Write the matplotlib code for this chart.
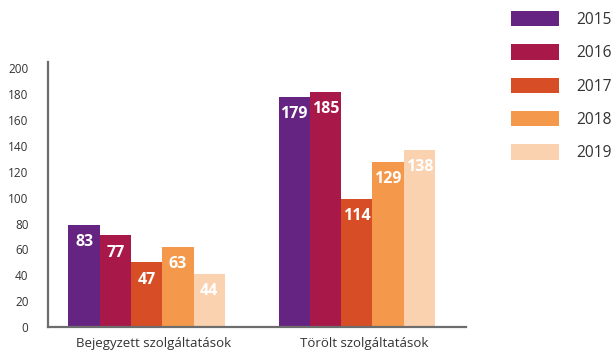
import matplotlib

matplotlib.use("Agg")
import matplotlib.pyplot as plt
import matplotlib.transforms as mtransforms
import numpy as np

categories = ["Bejegyzett szolgáltatások", "Törölt szolgáltatások"]
years = ["2015", "2016", "2017", "2018", "2019"]
# bar heights as drawn in the reference (they differ a bit from the printed labels)
heights = {
    "2015": [79, 178],
    "2016": [71, 182],
    "2017": [50, 99],
    "2018": [62, 128],
    "2019": [41, 137],
}
labels = {
    "2015": [83, 179],
    "2016": [77, 185],
    "2017": [47, 114],
    "2018": [63, 129],
    "2019": [44, 138],
}
colors = ["#662482", "#A8194A", "#D74E26", "#F4994B", "#FAD2AF"]
yticks = [0, 20, 40, 60, 80, 100, 120, 140, 160, 180, 200]

plt.rcParams["font.family"] = ["Open Sans", "DejaVu Sans"]

fig = plt.figure(figsize=(6.13, 3.5), dpi=100)
ax = fig.add_axes([48 / 613, 23 / 350, 418 / 613, 265 / 350])

x = np.arange(len(categories))
width = 0.149
for i, year in enumerate(years):
    pos = x + (i - 2) * width
    bars = ax.bar(pos, heights[year], width=width, color=colors[i], label=year, zorder=2)
    for b, lab in zip(bars, labels[year]):
        ax.annotate(str(lab), (b.get_x() + b.get_width() / 2, b.get_height()),
                    xytext=(0, -12.5), textcoords="offset points",
                    ha="center", va="center", color="white",
                    fontsize=11.5, fontweight="bold", zorder=3)

ax.set_xlim(-0.47, 1.52)
ax.set_ylim(0, 205)
ax.set_yticks(yticks)
ax.set_xticks(x)
ax.set_xticklabels(categories, fontsize=9.5, color="#333333")
ax.tick_params(axis="y", length=0, pad=14, labelsize=8.5, labelcolor="#333333")
ax.tick_params(axis="x", length=0, pad=7)
# category labels sit a little right of the group centres
shift = mtransforms.ScaledTranslation(7 / 100, 0, fig.dpi_scale_trans)
for t in ax.get_xticklabels():
    t.set_transform(t.get_transform() + shift)
for side in ["top", "right"]:
    ax.spines[side].set_visible(False)
for side in ["left", "bottom"]:
    ax.spines[side].set_color("#6d6d6d")
    ax.spines[side].set_linewidth(1.6)

fig.legend(loc="upper left", bbox_to_anchor=(511 / 613, 1 - 11 / 350),
           frameon=False, fontsize=11.2, borderpad=0, borderaxespad=0,
           handlelength=3.1, handleheight=1.15, handletextpad=1.1,
           labelspacing=1.05, labelcolor="#333333")

fig.savefig("out.png", dpi=100)
